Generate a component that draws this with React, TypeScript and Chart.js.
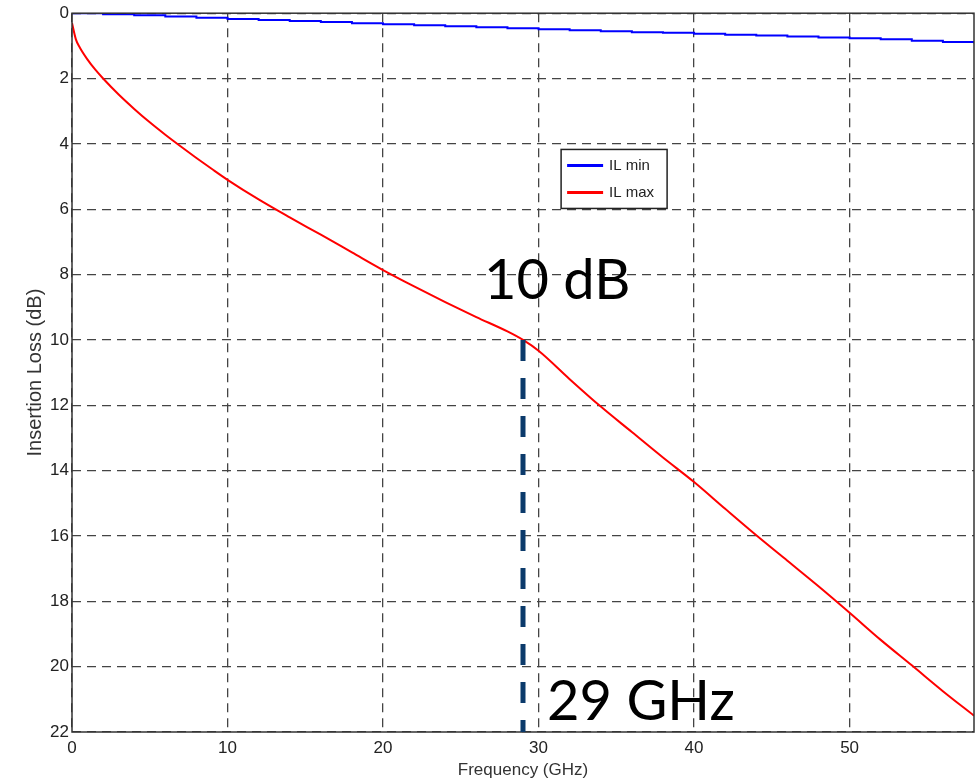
import React, { useEffect, useRef } from "react";
import { Chart, registerables } from "chart.js";

Chart.register(...registerables);

const redFreq = [0, 0.25, 0.5, 1, 1.5, 2, 3, 4, 5, 6, 7, 8, 9, 10, 12, 14, 16, 18, 20, 22, 24, 26, 28, 29, 30, 32, 34, 36, 38, 40, 42, 44, 46, 48, 50, 52, 54, 56, 58];
const redLoss = [0.3, 0.8, 1.05, 1.42, 1.73, 2.0, 2.49, 2.93, 3.34, 3.72, 4.08, 4.43, 4.77, 5.1, 5.7, 6.25, 6.78, 7.32, 7.86, 8.36, 8.84, 9.3, 9.74, 10.0, 10.33, 11.2, 12.04, 12.82, 13.6, 14.35, 15.17, 15.98, 16.76, 17.54, 18.35, 19.18, 19.96, 20.75, 21.5];

const blueFreq = [0, 2, 4, 6, 8, 10, 12, 14, 16, 18, 20, 22, 24, 26, 28, 30, 32, 34, 36, 38, 40, 42, 44, 46, 48, 50, 52, 54, 56, 58];
const blueLoss = [0.0, 0.03, 0.06, 0.1, 0.14, 0.18, 0.21, 0.24, 0.27, 0.31, 0.34, 0.37, 0.4, 0.43, 0.46, 0.49, 0.52, 0.55, 0.58, 0.6, 0.63, 0.66, 0.68, 0.71, 0.74, 0.77, 0.8, 0.84, 0.88, 0.92];

const xTitle = "Frequency (GHz)";
const yTitle = "Insertion Loss (dB)";
const seriesNames = ["IL min", "IL max"];
const markerFreq = 29;
const markerLoss = 10;
const lossLabel = "10 dB";
const freqLabel = "29 GHz";

const FONT = "'Liberation Sans', Arial, sans-serif";

const annotationPlugin = {
  id: "annot",
  afterDatasetsDraw(chart: any) {
    const { ctx, chartArea: a, scales } = chart;
    const xs = scales.x;
    const ys = scales.y;
    ctx.save();
    // frame
    ctx.strokeStyle = "#333";
    ctx.lineWidth = 1.5;
    ctx.setLineDash([]);
    ctx.strokeRect(a.left, a.top, a.right - a.left, a.bottom - a.top);
    // marker line
    const mx = xs.getPixelForValue(markerFreq);
    ctx.strokeStyle = "#0b3a6b";
    ctx.lineWidth = 5;
    ctx.setLineDash([21, 17]);
    ctx.beginPath();
    ctx.moveTo(mx, ys.getPixelForValue(markerLoss));
    ctx.lineTo(mx, ys.getPixelForValue(22));
    ctx.stroke();
    ctx.setLineDash([]);
    // big labels
    ctx.fillStyle = "#000";
    ctx.font = "56px Lato, 'Open Sans', sans-serif";
    ctx.textBaseline = "alphabetic";
    ctx.textAlign = "center";
    ctx.fillText(lossLabel, xs.getPixelForValue(31.2), ys.getPixelForValue(8.76));
    ctx.textAlign = "left";
    ctx.fillText(freqLabel, xs.getPixelForValue(30.55), ys.getPixelForValue(21.62));
    // legend
    const lx = xs.getPixelForValue(31.45);
    const ly = ys.getPixelForValue(4.17);
    const lw = 106;
    const lh = 59;
    ctx.fillStyle = "#fff";
    ctx.fillRect(lx, ly, lw, lh);
    ctx.strokeStyle = "#222";
    ctx.lineWidth = 1.5;
    ctx.strokeRect(lx, ly, lw, lh);
    ctx.font = "15px " + FONT;
    ctx.textBaseline = "middle";
    ctx.textAlign = "left";
    chart.data.datasets.forEach((ds: any, i: number) => {
      const yy = ly + 16 + i * 27;
      ctx.strokeStyle = ds.borderColor;
      ctx.lineWidth = 3;
      ctx.beginPath();
      ctx.moveTo(lx + 6, yy);
      ctx.lineTo(lx + 42, yy);
      ctx.stroke();
      ctx.fillStyle = "#222";
      ctx.fillText(ds.label, lx + 48, yy);
    });
    ctx.restore();
  },
};

export default function App() {
  const ref = useRef<HTMLCanvasElement>(null);
  useEffect(() => {
    const canvas = ref.current!;
    const chart = new Chart(canvas, {
      type: "line",
      data: {
        datasets: [
          {
            label: seriesNames[0],
            data: blueFreq.map((f, i) => ({ x: f, y: blueLoss[i] })),
            borderColor: "#0000ff",
            borderWidth: 2,
            pointRadius: 0,
            stepped: true,
          },
          {
            label: seriesNames[1],
            data: redFreq.map((f, i) => ({ x: f, y: redLoss[i] })),
            borderColor: "#ff0000",
            borderWidth: 2,
            pointRadius: 0,
            cubicInterpolationMode: "monotone",
          },
        ],
      },
      options: {
        animation: false,
        responsive: false,
        layout: { padding: { top: 13, right: 1, left: 0, bottom: 0 } },
        plugins: { legend: { display: false }, tooltip: { enabled: false } },
        scales: {
          x: {
            type: "linear",
            min: 0,
            max: 58,
            afterFit: (s: any) => { s.height = 51; },
            ticks: { stepSize: 10, includeBounds: false, color: "#222", font: { family: FONT, size: 17 }, padding: 6, maxRotation: 0 },
            grid: { color: "#444", lineWidth: 1.3, drawTicks: false },
            border: { display: false, dash: [9, 6] },
            title: { display: true, text: xTitle, color: "#333", font: { family: FONT, size: 17 }, padding: { top: 0, bottom: 2 } },
          },
          y: {
            type: "linear",
            reverse: true,
            min: 0,
            max: 22,
            afterFit: (s: any) => { s.width = 72; },
            ticks: { stepSize: 2, color: "#222", font: { family: FONT, size: 17 }, padding: 3 },
            grid: { color: "#444", lineWidth: 1.3, drawTicks: false },
            border: { display: false, dash: [9, 6] },
            title: { display: true, text: yTitle, color: "#333", font: { family: FONT, size: 20 }, padding: { top: 23, bottom: 0 } },
          },
        },
      },
      plugins: [annotationPlugin],
    } as any);
    return () => chart.destroy();
  }, []);
  return (
    <div style={{ position: "absolute", left: 0, top: 0, width: 975, height: 783, background: "#fff" }}>
      <canvas ref={ref} width={975} height={783} style={{ display: "block" }} />
    </div>
  );
}
